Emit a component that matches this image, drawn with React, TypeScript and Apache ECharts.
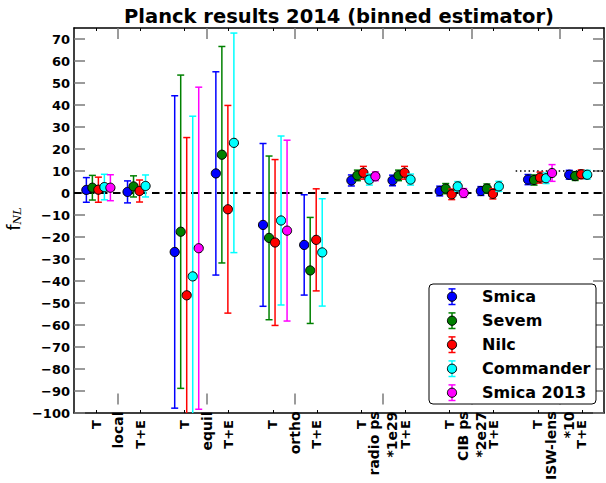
import React, { useEffect, useRef } from 'react';
import * as echarts from 'echarts';

// ---------- data ----------
const groups = ['local', 'equil', 'ortho', 'radio ps\n*1e29', 'CIB ps\n*2e27', 'ISW-lens\n*10'];
const minorLabels = ['T', 'T+E'];
const estimators = ['Smica', 'Sevem', 'Nilc', 'Commander', 'Smica 2013'];
const colors = ['#0000ff', '#008000', '#ff0000', '#00ffff', '#ff00ff'];

// T-only estimates (one row per estimator, one value per group)
const smicaT = [1.4, -26.8, -14.5, 5.7, 0.9, 6.1];
const sevemT = [2.4, -17.6, -20.4, 8.0, 2.0, 5.9];
const nilcT = [1.5, -46.5, -22.5, 9.2, -0.6, 7.0];
const commanderT = [2.7, -37.9, -12.5, 6.1, 3.0, 6.7];
const smica2013T = [2.4, -25.1, -17.1, 7.6, 0.0, 9.1];
const smicaTErr = [5.6, 71.0, 37.0, 2.5, 2.2, 2.3];
const sevemTErr = [5.6, 71.2, 37.2, 2.4, 2.3, 2.3];
const nilcTErr = [5.7, 71.7, 37.7, 2.9, 2.4, 2.5];
const commanderTErr = [5.8, 72.8, 38.4, 2.5, 2.2, 2.4];
const smica2013TErr = [5.9, 73.2, 41.1, 2.0, 2.0, 3.8];

// T+E estimates
const smicaTE = [0.5, 8.9, -23.6, 5.7, 0.9, 8.3];
const sevemTE = [3.0, 17.4, -35.2, 8.0, 2.0, 7.7];
const nilcTE = [0.9, -7.4, -21.3, 9.2, -0.4, 8.5];
const commanderTE = [3.2, 22.8, -27.0, 6.1, 3.0, 8.3];
const smicaTEErr = [5.0, 46.2, 22.8, 2.4, 2.0, 2.0];
const sevemTEErr = [4.8, 49.2, 24.1, 2.4, 2.1, 2.0];
const nilcTEErr = [5.0, 47.2, 23.2, 2.9, 2.3, 2.0];
const commanderTEErr = [5.0, 49.9, 24.4, 2.5, 2.3, 2.0];

const tValues = [smicaT, sevemT, nilcT, commanderT, smica2013T];
const tErrors = [smicaTErr, sevemTErr, nilcTErr, commanderTErr, smica2013TErr];
const teValues = [smicaTE, sevemTE, nilcTE, commanderTE, null];
const teErrors = [smicaTEErr, sevemTEErr, nilcTEErr, commanderTEErr, null];

// horizontal offsets of each estimator around its T / T+E tick (axis units)
const tOffsets = [-0.11, -0.042, 0.026, 0.094, 0.162];
const teOffsets = [-0.144, -0.076, -0.008, 0.06, 0];

const yTickValues = [-100, -90, -80, -70, -60, -50, -40, -30, -20, -10, 0, 10, 20, 30, 40, 50, 60, 70];
const xRange = [0.5, 6.5];
const yRange = [-100, 75];
const zeroLevel = 0;
const iswRefLevel = 10;
const iswRefRange = [5.5, 6.5];

const title = 'Planck results 2014 (binned estimator)';

// ---------- helpers ----------
const groupPos = groups.map((_, i) => i + 1);
const minorPos: number[] = [];
const minorText: string[] = [];
groupPos.forEach((p) => {
  minorPos.push(p - 0.25);
  minorText.push(minorLabels[0]);
  minorPos.push(p + 0.25);
  minorText.push(minorLabels[1]);
});
const lookup = (arr: number[], txt: string[], v: number) => {
  for (let i = 0; i < arr.length; i++) if (Math.abs(arr[i] - v) < 1e-6) return txt[i];
  return '';
};
const fmtMinus = (v: number) => (v < 0 ? '\u2212' + Math.abs(v) : String(v));

const FONT = 'DejaVu Sans';
const TICK_GREY = '#7a7a7a';

const hLineSeries = (x0: number, x1: number, y: number, width: number, dash: number[]) => ({
  type: 'custom',
  xAxisIndex: 0,
  yAxisIndex: 0,
  z: 1,
  silent: true,
  encode: { x: [0, 1], y: 2 },
  data: [[x0, x1, y]],
  renderItem: (_p: any, api: any) => {
    const a = api.coord([api.value(0), api.value(2)]);
    const b = api.coord([api.value(1), api.value(2)]);
    return {
      type: 'line',
      shape: { x1: a[0], y1: a[1], x2: b[0], y2: b[1] },
      style: { stroke: '#000', lineWidth: width, lineDash: dash, fill: null },
    };
  },
});

export default function App() {
  const ref = useRef<HTMLDivElement>(null);
  useEffect(() => {
    if (!ref.current) return;
    const chart = echarts.init(ref.current, undefined, { renderer: 'svg' });

    const series: any[] = [];
    series.push(hLineSeries(xRange[0], xRange[1], zeroLevel, 2, [7.5, 5.5]));
    series.push(hLineSeries(iswRefRange[0], iswRefRange[1], iswRefLevel, 1.5, [1.5, 2.8]));

    estimators.forEach((name, k) => {
      const data: number[][] = [];
      groupPos.forEach((p, g) => {
        data.push([p - 0.25 + tOffsets[k], tValues[k][g], tErrors[k][g]]);
        const te = teValues[k];
        const tee = teErrors[k];
        if (te && tee) data.push([p + 0.25 + teOffsets[k], te[g], tee[g]]);
      });
      const color = colors[k];
      series.push({
        type: 'custom',
        name,
        xAxisIndex: 0,
        yAxisIndex: 0,
        clip: true,
        z: 2 + k,
        encode: { x: 0, y: 1 },
        data,
        renderItem: (_params: any, api: any) => {
          const x = api.value(0);
          const y = api.value(1);
          const e = api.value(2);
          const c = api.coord([x, y]);
          const hi = api.coord([x, y + e]);
          const lo = api.coord([x, y - e]);
          const cap = 3.5;
          const ls = { stroke: color, lineWidth: 1.5 };
          return {
            type: 'group',
            children: [
              { type: 'line', shape: { x1: c[0], y1: hi[1], x2: c[0], y2: lo[1] }, style: ls },
              { type: 'line', shape: { x1: c[0] - cap, y1: hi[1], x2: c[0] + cap, y2: hi[1] }, style: ls },
              { type: 'line', shape: { x1: c[0] - cap, y1: lo[1], x2: c[0] + cap, y2: lo[1] }, style: ls },
              { type: 'circle', shape: { cx: c[0], cy: c[1], r: 4.6 }, style: { fill: color, stroke: '#000', lineWidth: 1 } },
            ],
          };
        },
      });
    });

    // legend drawn with graphic elements
    const legendX = 429;
    const legendY = 284;
    const rowY0 = 296.7;
    const rowGap = 24;
    const legendEls: any[] = [
      {
        type: 'rect',
        shape: { x: legendX, y: legendY, width: 167, height: 120, r: 4 },
        style: { fill: '#fff', stroke: '#000', lineWidth: 1 },
        z: 100,
      },
    ];
    estimators.forEach((name, k) => {
      const cy = rowY0 + rowGap * k;
      const cx = 452;
      const ls = { stroke: colors[k], lineWidth: 1.5 };
      legendEls.push({ type: 'line', shape: { x1: cx, y1: cy - 7.8, x2: cx, y2: cy + 7.8 }, style: ls, z: 101 });
      legendEls.push({ type: 'line', shape: { x1: cx - 3.5, y1: cy - 7.8, x2: cx + 3.5, y2: cy - 7.8 }, style: ls, z: 101 });
      legendEls.push({ type: 'line', shape: { x1: cx - 3.5, y1: cy + 7.8, x2: cx + 3.5, y2: cy + 7.8 }, style: ls, z: 101 });
      legendEls.push({ type: 'circle', shape: { cx, cy, r: 4.6 }, style: { fill: colors[k], stroke: '#000', lineWidth: 1 }, z: 102 });
      legendEls.push({
        type: 'text',
        x: 482,
        y: cy,
        style: { text: name, fill: '#000', font: `bold 16px "${FONT}"`, align: 'left', verticalAlign: 'middle' },
        z: 102,
      });
    });

    const grid = { left: 74, top: 28, right: 2, bottom: 70 };
    const labelStyle = { fontFamily: FONT, fontWeight: 'bold' as const, fontSize: 13, color: '#000' };
    const frameLine = { show: true, onZero: false, lineStyle: { color: '#000', width: 1.5 } };

    chart.setOption({
      animation: false,
      backgroundColor: '#fff',
      grid: [grid, grid],
      xAxis: [
        {
          type: 'value', gridIndex: 0, position: 'bottom', min: xRange[0], max: xRange[1],
          axisLine: frameLine,
          axisTick: { show: true, inside: true, length: 3, customValues: minorPos, lineStyle: { color: '#000', width: 1 } },
          axisLabel: {
            show: true, customValues: minorPos, rotate: 90, margin: 7, ...labelStyle,
            formatter: (v: number) => lookup(minorPos, minorText, v),
          },
          splitLine: { show: false },
        },
        {
          type: 'value', gridIndex: 0, position: 'top', min: xRange[0], max: xRange[1],
          axisLine: frameLine,
          axisTick: { show: true, inside: true, length: 3, customValues: minorPos, lineStyle: { color: '#000', width: 1 } },
          axisLabel: { show: false },
          splitLine: { show: false },
        },
        {
          type: 'value', gridIndex: 1, position: 'bottom', min: xRange[0], max: xRange[1],
          axisLine: { show: false, onZero: false },
          axisTick: { show: true, inside: true, length: 11, customValues: groupPos, lineStyle: { color: TICK_GREY, width: 1.5 } },
          axisLabel: {
            show: true, customValues: groupPos, rotate: 90, margin: 7, lineHeight: 18, ...labelStyle, fontSize: 14,
            formatter: (v: number) => lookup(groupPos, groups, v),
          },
          splitLine: { show: false },
        },
        {
          type: 'value', gridIndex: 1, position: 'top', min: xRange[0], max: xRange[1],
          axisLine: { show: false, onZero: false },
          axisTick: { show: true, inside: true, length: 11, customValues: groupPos, lineStyle: { color: TICK_GREY, width: 1.5 } },
          axisLabel: { show: false },
          splitLine: { show: false },
        },
      ],
      yAxis: [
        {
          type: 'value', gridIndex: 0, position: 'left', min: yRange[0], max: yRange[1],
          axisLine: frameLine,
          axisTick: { show: true, inside: true, length: 11, customValues: yTickValues, lineStyle: { color: TICK_GREY, width: 1.5 } },
          axisLabel: { show: true, customValues: yTickValues, margin: 4, ...labelStyle, formatter: (v: number) => fmtMinus(v) },
          splitLine: { show: false },
        },
        {
          type: 'value', gridIndex: 0, position: 'right', min: yRange[0], max: yRange[1],
          axisLine: frameLine,
          axisTick: { show: true, inside: true, length: 11, customValues: yTickValues, lineStyle: { color: TICK_GREY, width: 1.5 } },
          axisLabel: { show: false },
          splitLine: { show: false },
        },
        {
          type: 'value', gridIndex: 1, min: yRange[0], max: yRange[1], show: false,
          axisLine: { onZero: false },
        },
      ],
      graphic: [
        {
          type: 'text',
          x: 339,
          y: 16,
          style: { text: title, fill: '#000', font: `bold 19.5px "${FONT}"`, align: 'center', verticalAlign: 'middle' },
        },
        {
          type: 'text',
          x: 14,
          y: 219,
          rotation: Math.PI / 2,
          style: {
            text: '{f|f}{s|NL}',
            align: 'center',
            verticalAlign: 'middle',
            rich: {
              f: { fontFamily: 'DejaVu Sans', fontSize: 17, fill: '#000', verticalAlign: 'bottom' },
              s: { fontFamily: 'DejaVu Serif', fontStyle: 'italic', fontSize: 11, fill: '#000', padding: [6, 0, 0, 0] },
            },
          },
        },
        ...legendEls,
      ],
      series,
    });
    return () => chart.dispose();
  }, []);
  return <div ref={ref} style={{ position: 'fixed', left: 0, top: 0, width: 606, height: 483, background: '#fff' }} />;
}
